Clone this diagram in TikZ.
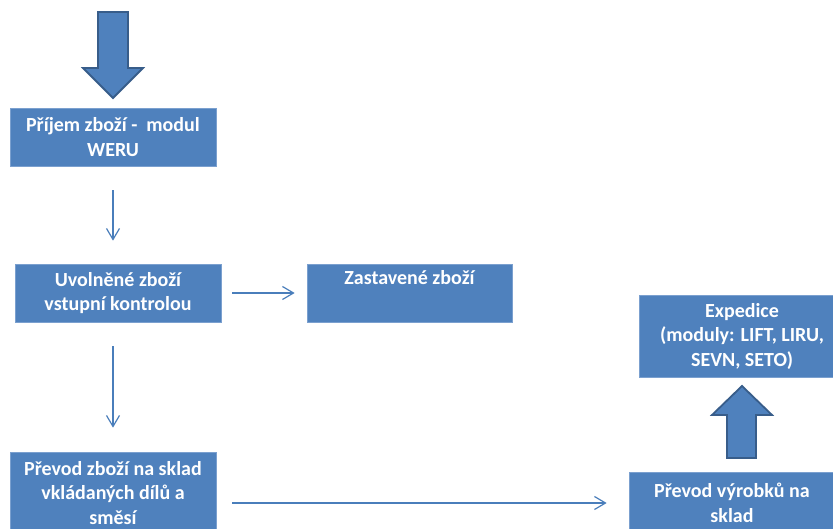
\documentclass[tikz,border=0pt]{standalone}
\usepackage{fontspec}
\setmainfont{Carlito}
\usetikzlibrary{arrows.meta}
\definecolor{boxblue}{HTML}{4F81BD}
\definecolor{boxedge}{HTML}{7BA0CF}
\definecolor{blockedge}{HTML}{385D8A}
\definecolor{linkblue}{HTML}{4A7EBB}
\tikzset{
  stepbox/.style={rectangle, fill=boxblue, draw=boxedge, line width=0.7pt,
    minimum width=206pt, inner sep=0pt, text=white, align=center,
    font=\fontsize{20}{24.5}\selectfont\bfseries},
  link/.style={draw=linkblue, line width=1.2pt,
    -{Straight Barb[length=11pt,width=13pt,line width=1.2pt]}},
  blockarrow/.style={fill=boxblue, draw=blockedge, line width=1.8pt, line join=miter}
}
\begin{document}
\begin{tikzpicture}[x=1pt,y=-1pt]
\useasboundingbox (0,0) rectangle (833,529);
\clip (0,0) rectangle (833,529);
\fill[white] (0,0) rectangle (833,529);

% process boxes
\node[stepbox, minimum height=58pt] (prijem) at (113,137) {Příjem zboží -\ \ modul\\WERU};
\node[stepbox, minimum height=58pt] (uvolnene) at (118,293) {Uvolněné zboží\\vstupní kontrolou};
\node[stepbox, minimum height=58pt, minimum width=205pt] (zastavene) at (409.5,293) {Zastavené zboží\\\strut};
\node[stepbox, minimum height=82pt] (prevodzbozi) at (113,493) {Převod zboží na sklad\\vkládaných dílů a\\směsí};
\node[stepbox, minimum height=62pt] (prevodvyrobku) at (732,503) {Převod výrobků na\\sklad};
\node[stepbox, minimum height=82pt] (expedice) at (742,336) {Expedice\\(moduly: LIFT, LIRU,\\SEVN, SETO)};

% block arrow entering the first step
\draw[blockarrow] (98,12) -- (128,12) -- (128,68) -- (143,68) -- (113,98)
  -- (83,68) -- (98,68) -- cycle;

% block arrow from the warehouse transfer up to dispatch
\draw[blockarrow] (727,458) -- (756,458) -- (756,415) -- (772,415) -- (742,386)
  -- (712,415) -- (727,415) -- cycle;

% thin connectors
\draw[link, shorten <=24pt, shorten >=23pt] (prijem.south) -- (prijem.south |- uvolnene.north);
\draw[link, shorten <=11pt, shorten >=12pt] (uvolnene.east) -- (zastavene.west);
\draw[link, shorten <=24pt, shorten >=24pt] (prevodzbozi.north |- uvolnene.south) -- (prevodzbozi.north);
\draw[link, shorten <=16pt, shorten >=22pt] (prevodzbozi.east |- prevodvyrobku.west) -- (prevodvyrobku.west);
\end{tikzpicture}
\end{document}
